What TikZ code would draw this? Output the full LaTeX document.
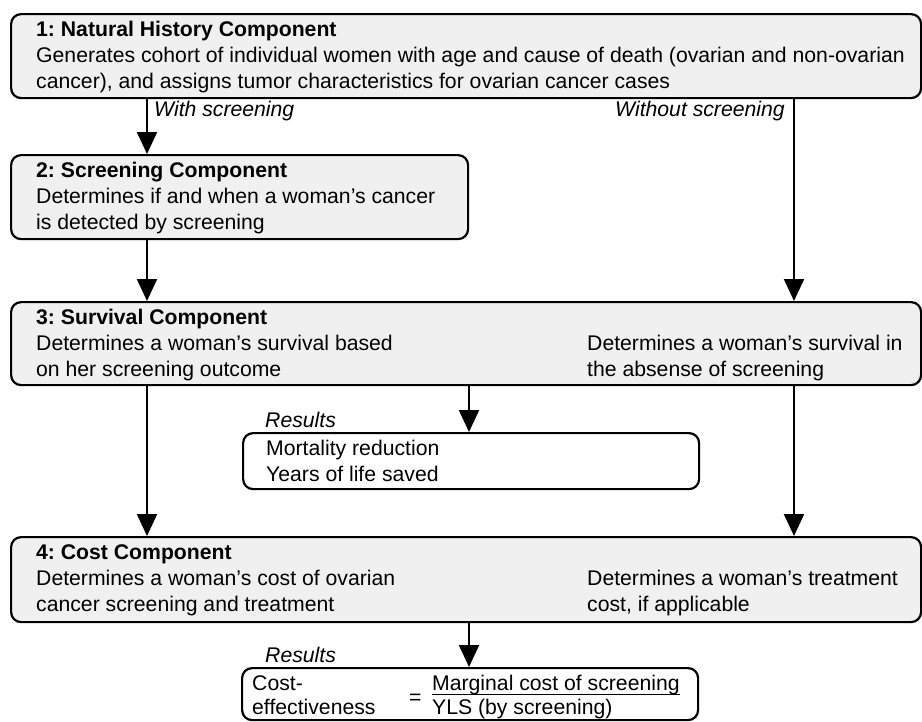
\documentclass[tikz,border=0pt]{standalone}
\usepackage{fontspec}
\setmainfont{Liberation Sans}
\usetikzlibrary{arrows.meta}
\definecolor{boxgray}{HTML}{F0F0F0}
\frenchspacing
\begin{document}
\begin{tikzpicture}[x=1pt,y=-1pt,
  box/.style={draw=black, line width=2.2pt, rounded corners=10pt, fill=boxgray, anchor=north west, inner sep=0pt},
  resbox/.style={draw=black, line width=2.2pt, rounded corners=10pt, fill=white, anchor=north west, inner sep=0pt},
  txt/.style={anchor=base west, inner sep=0pt, font=\fontsize{21.2}{26}\selectfont},
  ttl/.style={anchor=base west, inner sep=0pt, font=\fontsize{21.2}{26}\selectfont\bfseries},
  lbl/.style={anchor=base west, inner sep=0pt, font=\fontsize{21.2}{26}\selectfont\itshape},
  arr/.style={line width=2.2pt, -{Triangle[length=22pt,width=20pt]}}]
\useasboundingbox (0,0) rectangle (922,721);
\coordinate (cl) at (147,0);
\coordinate (cm) at (469,0);
\coordinate (cr) at (794,0);
% boxes
\node[box, minimum width=910pt, minimum height=84pt] (b1) at (10,13) {};
\node[box, minimum width=457pt, minimum height=84pt] (b2) at (10,154) {};
\node[box, minimum width=910pt, minimum height=83pt] (b3) at (10,301) {};
\node[box, minimum width=910pt, minimum height=85pt] (b4) at (10,536) {};
\node[resbox, minimum width=456pt, minimum height=56pt] (r1) at (242,432) {};
\node[resbox, minimum width=456pt, minimum height=52pt] (r2) at (241,667) {};
% box 1 text
\node[ttl] (t1) at (36,36) {1: Natural History Component};
\node[txt] (t1a) at (36,62) {Generates cohort of individual women with age and cause of death (ovarian and non-ovarian};
\node[txt] (t1b) at (36,88) {cancer), and assigns tumor characteristics for ovarian cancer cases};
% box 2 text
\node[ttl] (t2) at (36,177) {2: Screening Component};
\node[txt] (t2a) at (36,203) {Determines if and when a woman’s cancer};
\node[txt] (t2b) at (36,229) {is detected by screening};
% box 3 text
\node[ttl] (t3) at (36,324) {3: Survival Component};
\node[txt] (t3a) at (36,350) {Determines a woman’s survival based};
\node[txt] (t3b) at (36,376) {on her screening outcome};
\node[txt] (t3c) at (587,350) {Determines a woman’s survival in};
\node[txt] (t3d) at (587,376) {the absense of screening};
% box 4 text
\node[ttl] (t4) at (36,559) {4: Cost Component};
\node[txt] (t4a) at (36,585) {Determines a woman’s cost of ovarian};
\node[txt] (t4b) at (36,611) {cancer screening and treatment};
\node[txt] (t4c) at (587,585) {Determines a woman’s treatment};
\node[txt] (t4d) at (587,611) {cost, if applicable};
% labels
\node[lbl] (lw) at (154,116) {With screening};
\node[lbl] (lwo) at (615,116) {Without screening};
\node[lbl] (res1) at (265,427) {Results};
\node[txt] (r1a) at (266,455) {Mortality reduction};
\node[txt] (r1b) at (266,481) {Years of life saved};
\node[lbl] (res2) at (265,662) {Results};
\node[txt] (r2a) at (252,690) {Cost-};
\node[txt] (r2b) at (252,714) {effectiveness};
\node[txt] (eq) at (409,704) {=};
\node[txt] (r2c) at (432,690) {Marginal cost of screening};
\node[txt] (r2d) at (432,714) {YLS (by screening)};
\draw[line width=1.3pt] (r2c.base west) ++(0,4.5) -- ++(248,0);
% arrows
\draw[arr] (b1.south -| cl) -- (b2.north -| cl);
\draw[arr] (b2.south -| cl) -- (b3.north -| cl);
\draw[arr] (b3.south -| cl) -- (b4.north -| cl);
\draw[arr] (b1.south -| cr) -- (b3.north -| cr);
\draw[arr] (b3.south -| cr) -- (b4.north -| cr);
\draw[arr] (b3.south -| cm) -- (r1.north -| cm);
\draw[arr] (b4.south -| cm) -- (r2.north -| cm);
\end{tikzpicture}
\end{document}
